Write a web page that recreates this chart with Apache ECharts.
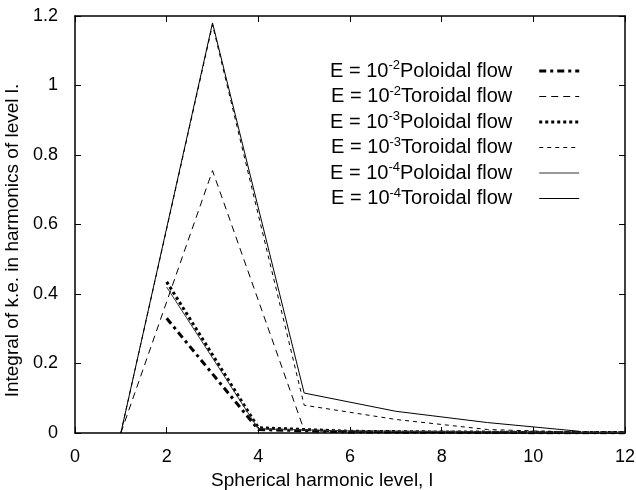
<!DOCTYPE html>
<html>
<head>
<meta charset="utf-8">
<script src="https://cdn.jsdelivr.net/npm/echarts@6/dist/echarts.min.js"></script>
<style>
  html, body { margin: 0; padding: 0; background: #fff; }
  #main { width: 636px; height: 490px; }
</style>
</head>
<body>
<div id="main"></div>
<script>
// harmonic levels: toroidal uses odd l, poloidal uses even l
const oddL = [1, 3, 5, 7, 9, 11]
const evenL = [2, 4, 6, 8, 10, 12]

const pol2 = [0.33, 0.010, 0.003, 0.002, 0.001, 0.001]
const tor2 = [0, 0.755, 0.008, 0.002, 0.001, 0.0005]
const pol3 = [0.435, 0.015, 0.005, 0.003, 0.002, 0.001]
const tor3 = [0, 1.175, 0.080, 0.039, 0.010, 0.002]
const pol4 = [0.42, 0.012, 0.006, 0.004, 0.003, 0.002]
const tor4 = [0, 1.18, 0.115, 0.0625, 0.030, 0.005]

const xTicks = [0, 2, 4, 6, 8, 10, 12]
const yTicks = [0, 0.2, 0.4, 0.6, 0.8, 1, 1.2]

const font = 'Liberation Sans'

function pairs (xs, ys) {
  return xs.map((x, i) => [x, ys[i]])
}

function line (name, xs, ys, width, type, color) {
  return {
    name: name,
    type: 'line',
    data: pairs(xs, ys),
    symbol: 'none',
    smooth: false,
    animation: false,
    color: color || '#000',
    lineStyle: { color: color || '#000', width: width, type: type }
  }
}

const series = [
  line('E = 10^-2 Poloidal flow', evenL, pol2, 3, [7, 4, 3, 4]),
  line('E = 10^-2 Toroidal flow', oddL, tor2, 1, [7, 5]),
  line('E = 10^-3 Poloidal flow', evenL, pol3, 3, [3, 3]),
  line('E = 10^-3 Toroidal flow', oddL, tor3, 1, [4, 4]),
  line('E = 10^-4 Poloidal flow', evenL, pol4, 1, 'solid', '#333'),
  line('E = 10^-4 Toroidal flow', oddL, tor4, 1, 'solid')
]

function axisCommon () {
  return {
    axisLine: { show: true, onZero: false, lineStyle: { color: '#000', width: 1.5 } },
    axisTick: { show: true, inside: true, length: 6, lineStyle: { color: '#000' } },
    splitLine: { show: false }
  }
}

let myChart = echarts.init(document.getElementById('main'))
myChart.setOption({
  backgroundColor: '#fff',
  animation: false,
  grid: { left: 75, right: 11, top: 16, bottom: 57, show: false, outerBoundsMode: 'none', containLabel: false },
  legend: {
    orient: 'vertical',
    left: 325,
    top: 54,
    align: 'right',
    itemWidth: 40,
    itemHeight: 14,
    itemGap: 3.5,
    itemStyle: { opacity: 0 },
    data: series.map(s => ({
      name: s.name,
      itemStyle: { opacity: 0 },
      lineStyle: Object.assign({}, s.lineStyle)
    })),
    formatter: function (name) {
      const m = name.match(/^(E = 10)\^(-\d) (.*)$/)
      return '{a|' + m[1] + '}{s|' + m[2] + '}{b|' + m[3] + '}'
    },
    textStyle: {
      fontFamily: font,
      fontSize: 20,
      color: '#000',
      rich: {
        a: { fontSize: 20, fontFamily: font, color: '#000' },
        s: { fontSize: 13, fontFamily: font, color: '#000', padding: [0, 0, 11, 0] },
        b: { fontSize: 20, fontFamily: font, color: '#000', padding: [0, 22, 0, 0] }
      }
    }
  },
  xAxis: [
    Object.assign({
      type: 'value',
      min: 0,
      max: 12,
      interval: 2,
      name: 'Spherical harmonic level, l',
      nameLocation: 'middle',
      nameGap: 36,
      nameTextStyle: { fontFamily: font, fontSize: 19, color: '#000', padding: [0, 56, 0, 0] },
      axisLabel: {
        fontFamily: font, fontSize: 18, color: '#000', margin: 15,
        formatter: v => (xTicks.indexOf(v) >= 0 ? String(v) : '')
      }
    }, axisCommon()),
    Object.assign({
      type: 'value', position: 'top', min: 0, max: 12, interval: 2,
      axisLabel: { show: false }
    }, axisCommon())
  ],
  yAxis: [
    Object.assign({
      type: 'value',
      min: 0,
      max: 1.2,
      interval: 0.2,
      name: 'Integral of k.e. in harmonics of level l.',
      nameLocation: 'middle',
      nameGap: 49,
      nameTextStyle: { fontFamily: font, fontSize: 19, color: '#000', padding: [0, 32, 0, 0] },
      axisLabel: {
        fontFamily: font, fontSize: 18, color: '#000', margin: 17,
        formatter: v => {
          const t = yTicks.find(y => Math.abs(y - v) < 1e-9)
          return t === undefined ? '' : String(t)
        }
      }
    }, axisCommon()),
    Object.assign({
      type: 'value', position: 'right', min: 0, max: 1.2, interval: 0.2,
      axisLabel: { show: false }
    }, axisCommon())
  ],
  series: series
})
</script>
</body>
</html>
